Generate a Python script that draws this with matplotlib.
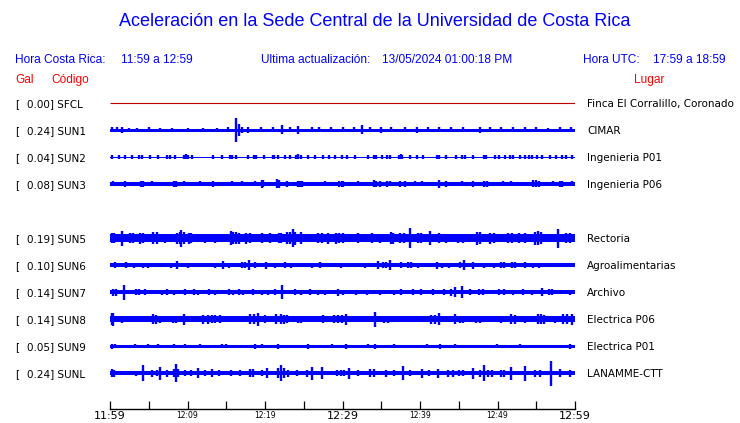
import matplotlib
matplotlib.use("Agg")
import matplotlib.pyplot as plt
import matplotlib.transforms as mtransforms

# ---------------- data ----------------
codes = ["SFCL", "SUN1", "SUN2", "SUN3", "SUN5", "SUN6", "SUN7", "SUN8", "SUN9", "SUNL"]
gal = [0.00, 0.24, 0.04, 0.08, 0.19, 0.10, 0.14, 0.14, 0.05, 0.24]
places = ["Finca El Corralillo, Coronado", "CIMAR", "Ingenieria P01", "Ingenieria P06",
          "Rectoria", "Agroalimentarias", "Archivo", "Electrica P06", "Electrica P01",
          "LANAMME-CTT"]
# background noise half-width of every trace (px)
base_noise = [0.0, 1.5, 0.5, 2.0, 3.8, 1.8, 1.8, 2.7, 1.5, 1.8]

# bursts / spikes: (minute after 11:59, half amplitude in px)
ev_sfcl = []
ev_sun1 = [(0.3, 2.5), (0.9, 2.5), (1.5, 3), (2.5, 2), (3.5, 2.2), (5, 2.5), (6.5, 2), (8, 2.2),
           (10, 2.2), (12, 2), (13.8, 2.2), (15.2, 2.5), (16.3, 11.8), (16.6, 6), (17.0, 3),
           (17.8, 3), (19.5, 2.5), (21, 2.5), (22.2, 4.5), (23.2, 2.5), (24.3, 4), (26, 2.5),
           (27, 2.5), (28.5, 2.5), (30, 2.5), (31.5, 2.5), (32.5, 4.5), (33.5, 2.5), (35, 3),
           (36.3, 2.5), (38, 2.5), (39.6, 3), (41, 2.5), (42.5, 2.5), (44, 2.5), (45.5, 2.5),
           (47.7, 3), (49, 2.5), (50.5, 2.5), (52, 2.5), (53.5, 2.5), (55, 2.5), (56.5, 2.2),
           (58, 2.5), (59.5, 2.5)]
ev_sun2 = [(0.2, 2), (1.1, 1.6), (1.9, 1.6), (2.8, 1.6), (3.7, 1.6), (4.1, 1.8), (5.2, 1.6),
           (6.2, 1.6), (7.3, 1.8), (7.7, 1.6), (8.4, 1.6), (9.6, 2.2), (9.8, 2.5), (10.0, 2.2),
           (10.6, 1.6), (13.3, 1.6), (14.4, 1.6), (15.5, 2), (15.7, 2), (16.3, 1.6), (17.8, 1.8),
           (18.6, 2), (18.8, 2), (19.9, 1.8), (21.0, 2), (21.2, 2), (21.7, 1.8), (22.6, 1.8),
           (23.2, 1.6), (24.0, 2.2), (24.2, 2.5), (24.7, 1.8), (25.6, 1.8), (26.5, 1.6),
           (27.5, 1.6), (28.2, 1.6), (29.0, 1.6), (29.9, 2), (30.6, 1.8), (31.6, 1.6), (33.3, 1.6),
           (34.1, 2.2), (34.3, 2.2), (35.1, 1.8), (35.7, 1.6), (36.1, 1.6), (37.3, 2), (37.5, 2.5),
           (37.7, 2), (38.7, 1.8), (39.6, 1.6), (40.4, 1.6), (42.2, 2.2), (42.4, 2.2), (43.4, 1.8),
           (44.7, 1.6), (45.4, 1.6), (45.8, 1.6), (46.9, 1.8), (48.3, 2), (48.5, 2.2), (49.7, 1.6),
           (50.2, 1.6), (51.0, 1.8), (51.6, 1.6), (52.0, 1.6), (52.9, 1.8), (53.5, 1.6),
           (54.0, 1.6), (54.5, 1.8), (55.1, 1.6), (55.7, 1.8), (56.8, 1.6), (57.6, 1.6),
           (58.3, 1.6), (58.9, 1.6), (59.6, 1.8)]
ev_sun3 = [(0.4, 2.5), (1.9, 3), (4.0, 3), (4.2, 3), (5.4, 2.5), (8.3, 3), (8.5, 3), (9.5, 2.5),
           (11.6, 2.5), (13.3, 3), (15.7, 2.5), (17.0, 2.5), (18.7, 2.5), (19.6, 4), (19.8, 3.5),
           (21.6, 4.5), (21.8, 4), (22.8, 3), (24.2, 3), (24.5, 3), (24.8, 3), (27.7, 2.5),
           (29.6, 3), (29.9, 3), (30.1, 3), (32.0, 2.5), (34.1, 3.5), (34.3, 3), (34.8, 3),
           (35.7, 3), (36.1, 2.5), (37.4, 3), (38.1, 3), (39.4, 2.5), (40.2, 2.5), (42.4, 4),
           (43.4, 3), (45.4, 2.5), (46.9, 3), (48.3, 3), (48.6, 3), (50.7, 2.5), (51.8, 2.5),
           (54.6, 3.5), (55.0, 3.5), (55.4, 3), (57.2, 2.5), (58.1, 3), (58.3, 3), (59.6, 2.5)]
ev_sun5 = [(0.2, 5), (0.5, 5), (1.5, 7.5), (2.6, 5), (3.0, 5), (3.9, 5.5), (4.3, 5), (5.6, 6),
           (6.0, 6), (7.1, 4.5), (8.6, 5.5), (9.0, 6), (9.2, 8.5), (9.5, 6), (10.2, 5.5),
           (10.5, 5), (12.3, 4.5), (13.5, 4.5), (15.6, 7), (15.9, 6), (16.3, 6), (16.7, 5.5),
           (17.6, 5.5), (18.0, 5), (19.6, 5), (20.6, 5), (21.8, 5), (22.1, 5), (22.8, 6),
           (23.2, 6), (23.6, 8.8), (23.9, 6.5), (24.7, 6), (25.6, 4), (26.8, 5), (27.3, 5),
           (28.1, 5.5), (29.1, 5.5), (29.6, 5), (30.1, 5), (32.0, 5), (33.8, 5), (34.8, 4.5),
           (36.2, 6), (36.5, 5.5), (37.4, 5), (37.9, 5), (38.7, 10), (39.7, 5), (40.1, 5),
           (41.3, 7), (42.4, 5), (43.4, 4.5), (44.9, 4.5), (45.6, 4.5), (47.3, 6.5), (47.8, 6),
           (49.0, 5.5), (49.6, 5), (51.4, 5), (51.9, 5), (52.8, 5), (53.6, 5), (54.8, 6.5),
           (55.2, 7), (55.6, 6), (57.8, 9.5), (58.8, 5), (59.4, 5)]
ev_sun6 = [(0.6, 3), (2.1, 3), (3.1, 2.5), (4.2, 2.5), (4.9, 2.5), (7.9, 2.5), (8.6, 4),
           (10.1, 2.5), (13.5, 2.5), (14.6, 4), (15.3, 2.5), (17.0, 3), (17.4, 3), (17.9, 5),
           (18.7, 3), (20.1, 3.5), (21.3, 2.5), (22.6, 3), (23.4, 2.5), (26.0, 2.5), (27.1, 3),
           (29.8, 2.5), (32.9, 2.5), (34.6, 4), (35.2, 3), (35.6, 3), (36.1, 5), (37.6, 3),
           (38.4, 3), (38.8, 3), (39.7, 2.5), (42.2, 3.5), (42.8, 2.5), (43.7, 2.5), (45.2, 3),
           (45.7, 5), (46.8, 3.5), (48.2, 2.5), (49.5, 2.5), (50.4, 3), (50.8, 3), (51.9, 3),
           (52.3, 3), (53.5, 3), (54.6, 2.5), (55.3, 2.5), (56.8, 2)]
ev_sun7 = [(0.4, 3.5), (0.8, 3.5), (1.8, 7.5), (3.4, 3), (3.8, 3), (4.5, 3), (6.7, 2.5),
           (7.3, 3), (8.2, 2.5), (9.7, 3), (10.8, 3), (11.4, 2.5), (12.8, 3), (13.5, 2.5),
           (15.3, 3), (15.9, 2.5), (16.6, 3), (17.2, 2.5), (18.5, 3), (19.6, 2.5), (20.4, 2.5),
           (21.3, 3), (22.2, 7.3), (23.9, 3), (24.7, 2.5), (25.8, 3), (26.9, 2.5), (27.7, 2.5),
           (29.4, 3.5), (30.0, 2.5), (31.8, 2.5), (33.1, 2.5), (34.8, 2.5), (36.6, 2.5),
           (37.6, 3), (39.1, 3), (40.1, 3), (41.7, 3), (43.1, 3), (44.0, 3.5), (44.5, 5),
           (45.4, 6), (46.5, 3), (47.6, 3), (48.1, 3), (50.2, 3), (50.8, 3), (52.0, 2.5),
           (53.3, 3), (54.4, 2.5), (55.7, 4), (56.6, 3), (57.0, 3), (59.4, 2.5)]
ev_sun8 = [(0.2, 6), (0.4, 6.5), (1.5, 3.5), (2.6, 3), (3.7, 3), (4.9, 3), (5.5, 5), (5.9, 4.5),
           (6.5, 3.5), (7.1, 3), (8.1, 3.5), (8.5, 3.5), (9.5, 5.5), (10.5, 3), (12.0, 4.5),
           (12.6, 4.5), (13.2, 4), (13.6, 4), (14.2, 4), (14.8, 3), (15.7, 3), (16.8, 3),
           (18.1, 5), (18.6, 5), (19.1, 6.5), (20.0, 4), (21.4, 5), (22.0, 5), (22.4, 4.5),
           (22.8, 4), (24.2, 3.5), (24.6, 3.5), (25.4, 3), (26.9, 3), (27.5, 4), (28.9, 4),
           (29.4, 4), (29.9, 4), (30.5, 5.5), (31.8, 3), (32.7, 3), (34.2, 7.5), (35.4, 3.5),
           (35.9, 3.5), (37.8, 3), (39.2, 3), (39.8, 3), (41.4, 4.5), (41.9, 4.5), (42.4, 6),
           (44.5, 5), (45.1, 3.5), (45.6, 3.5), (47.2, 3.5), (47.8, 3.5), (48.6, 3), (50.5, 3.5),
           (51.8, 5), (52.3, 4.5), (53.5, 3.5), (55.2, 5), (55.6, 5), (56.0, 4.5), (57.4, 3.5),
           (58.5, 5), (59.0, 5), (59.6, 5.5)]
ev_sun9 = [(0.2, 2.5), (0.6, 2), (3.2, 2), (4.9, 2), (6.2, 2), (8.2, 2), (9.7, 2), (11.6, 2),
           (14.4, 2), (15.0, 2), (18.7, 2.5), (19.6, 2), (21.7, 2.5), (25.6, 2.5), (28.6, 2),
           (30.5, 2.5), (33.3, 2), (34.2, 2.5), (36.6, 2), (40.9, 2), (42.6, 2.5), (44.5, 2),
           (49.9, 2), (52.9, 2), (59.4, 2.5)]
ev_sunl = [(0.2, 4), (0.5, 3.5), (3.3, 2.5), (4.2, 8), (5.4, 3.5), (6.0, 3), (6.5, 6.5),
           (7.3, 3.5), (8.2, 4), (8.5, 9), (8.8, 4), (9.7, 3), (10.5, 3), (11.3, 5), (12.3, 3),
           (13.1, 4), (14.0, 3), (15.6, 3), (16.8, 3), (18.0, 4), (18.5, 4), (19.6, 3),
           (20.3, 5), (21.7, 5), (22.1, 8), (22.4, 5), (23.0, 3.5), (24.1, 3), (25.4, 3.5),
           (26.0, 6.5), (27.3, 6), (29.3, 3), (29.8, 3), (30.2, 3), (30.9, 5.5), (32.0, 3),
           (33.6, 4), (34.0, 4), (35.6, 3.5), (36.6, 3), (37.8, 7), (38.7, 3), (40.2, 4.5),
           (41.1, 3), (42.3, 4.5), (43.6, 3.5), (44.2, 3.5), (45.0, 3), (45.6, 3), (46.8, 5.5),
           (47.7, 3.5), (48.2, 8), (48.8, 3.5), (49.3, 3.5), (50.4, 3.5), (50.9, 3.5), (51.8, 6.5),
           (53.5, 7.5), (54.9, 3.5), (55.5, 3.5), (56.9, 12.5), (58.1, 4), (59.4, 3.5)]
events = [ev_sfcl, ev_sun1, ev_sun2, ev_sun3, ev_sun5, ev_sun6, ev_sun7, ev_sun8, ev_sun9, ev_sunl]

tick_minutes = [0, 5, 10, 15, 20, 25, 30, 35, 40, 45, 50, 55, 60]
tick_labels = ["11:59", "", "12:09", "", "12:19", "", "12:29", "", "12:39", "", "12:49", "", "12:59"]
big_labels = ["11:59", "12:29", "12:59"]

# ---------------- layout ----------------
W, H = 740, 423
fig = plt.figure(figsize=(W / 100, H / 100), dpi=100)
fig.patch.set_facecolor("white")

x0_px, x1_px = 110, 575
y_top_px, y_bot_px = 90, 409
ax = fig.add_axes([x0_px / W, 1 - y_bot_px / H, (x1_px - x0_px) / W, (y_bot_px - y_top_px) / H])
ax.set_xlim(0, 60)
ax.set_ylim(y_bot_px, y_top_px)  # y in pixel-like units, downward
ax.patch.set_alpha(0)
for s in ["top", "left", "right"]:
    ax.spines[s].set_visible(False)
ax.spines["bottom"].set_linewidth(1.0)
ax.set_yticks([])

slots = [0, 1, 2, 3, 5, 6, 7, 8, 9, 10]
row_y = [103 + 27 * s for s in slots]

BLUE = "#0000ff"
for i, code in enumerate(codes):
    y = row_y[i]
    if code == "SFCL":
        ax.hlines(y, 0, 60, color="#c00000", lw=0.8)
    else:
        b = base_noise[i]
        ax.fill_between([0, 60], [y - b, y - b], [y + b, y + b], color=BLUE, lw=0)
        if events[i]:
            xs = [e[0] for e in events[i]]
            amps = [e[1] for e in events[i]]
            ax.vlines(xs, [y - a for a in amps], [y + a for a in amps], color=BLUE, lw=1.7)

ax.set_xticks(tick_minutes)
ax.set_xticklabels(tick_labels)
ax.tick_params(axis="x", direction="in", length=6, width=0.9, pad=1.5, colors="black")
for lab in ax.get_xticklabels():
    if lab.get_text() in big_labels:
        lab.set_fontsize(8.0)
    else:
        lab.set_fontsize(5.5)
    lab.set_family("DejaVu Sans")

# left and right labels
trans = mtransforms.blended_transform_factory(fig.transFigure, ax.transData)
for i, code in enumerate(codes):
    yb = row_y[i] + 4
    ax.text(15 / W, yb, "[", transform=trans, fontsize=7.5, va="baseline", ha="left",
            family="DejaVu Sans")
    ax.text(27 / W, yb, f"{gal[i]:.2f}] {code}", transform=trans, fontsize=7.5,
            va="baseline", ha="left", family="DejaVu Sans")
    ax.text(587 / W, yb, places[i], transform=trans, fontsize=7.5, va="baseline",
            ha="left", family="DejaVu Sans")

# header
HF = "Liberation Sans"
fig.text(375 / W, 1 - 22 / H, "Aceleración en la Sede Central de la Universidad de Costa Rica",
         ha="center", va="center", fontsize=13, color=BLUE, family=HF)
hy = 1 - 60 / H
fig.text(15 / W, hy, "Hora Costa Rica:", ha="left", va="center", fontsize=8.6, color=BLUE, family=HF)
fig.text(121 / W, hy, "11:59 a 12:59", ha="left", va="center", fontsize=8.6, color=BLUE, family=HF)
fig.text(261 / W, hy, "Ultima actualización:", ha="left", va="center", fontsize=8.6, color=BLUE, family=HF)
fig.text(382 / W, hy, "13/05/2024 01:00:18 PM", ha="left", va="center", fontsize=8.6, color=BLUE, family=HF)
fig.text(583 / W, hy, "Hora UTC:", ha="left", va="center", fontsize=8.6, color=BLUE, family=HF)
fig.text(726 / W, hy, "17:59 a 18:59", ha="right", va="center", fontsize=8.6, color=BLUE, family=HF)
ry = 1 - 80 / H
fig.text(15 / W, ry, "Gal", ha="left", va="center", fontsize=8.6, color="#ff0000", family=HF)
fig.text(51 / W, ry, "Código", ha="left", va="center", fontsize=8.6, color="#ff0000", family=HF)
fig.text(664 / W, ry, "Lugar", ha="right", va="center", fontsize=8.6, color="#ff0000", family=HF)

fig.savefig("out.png", dpi=100, facecolor="white")
